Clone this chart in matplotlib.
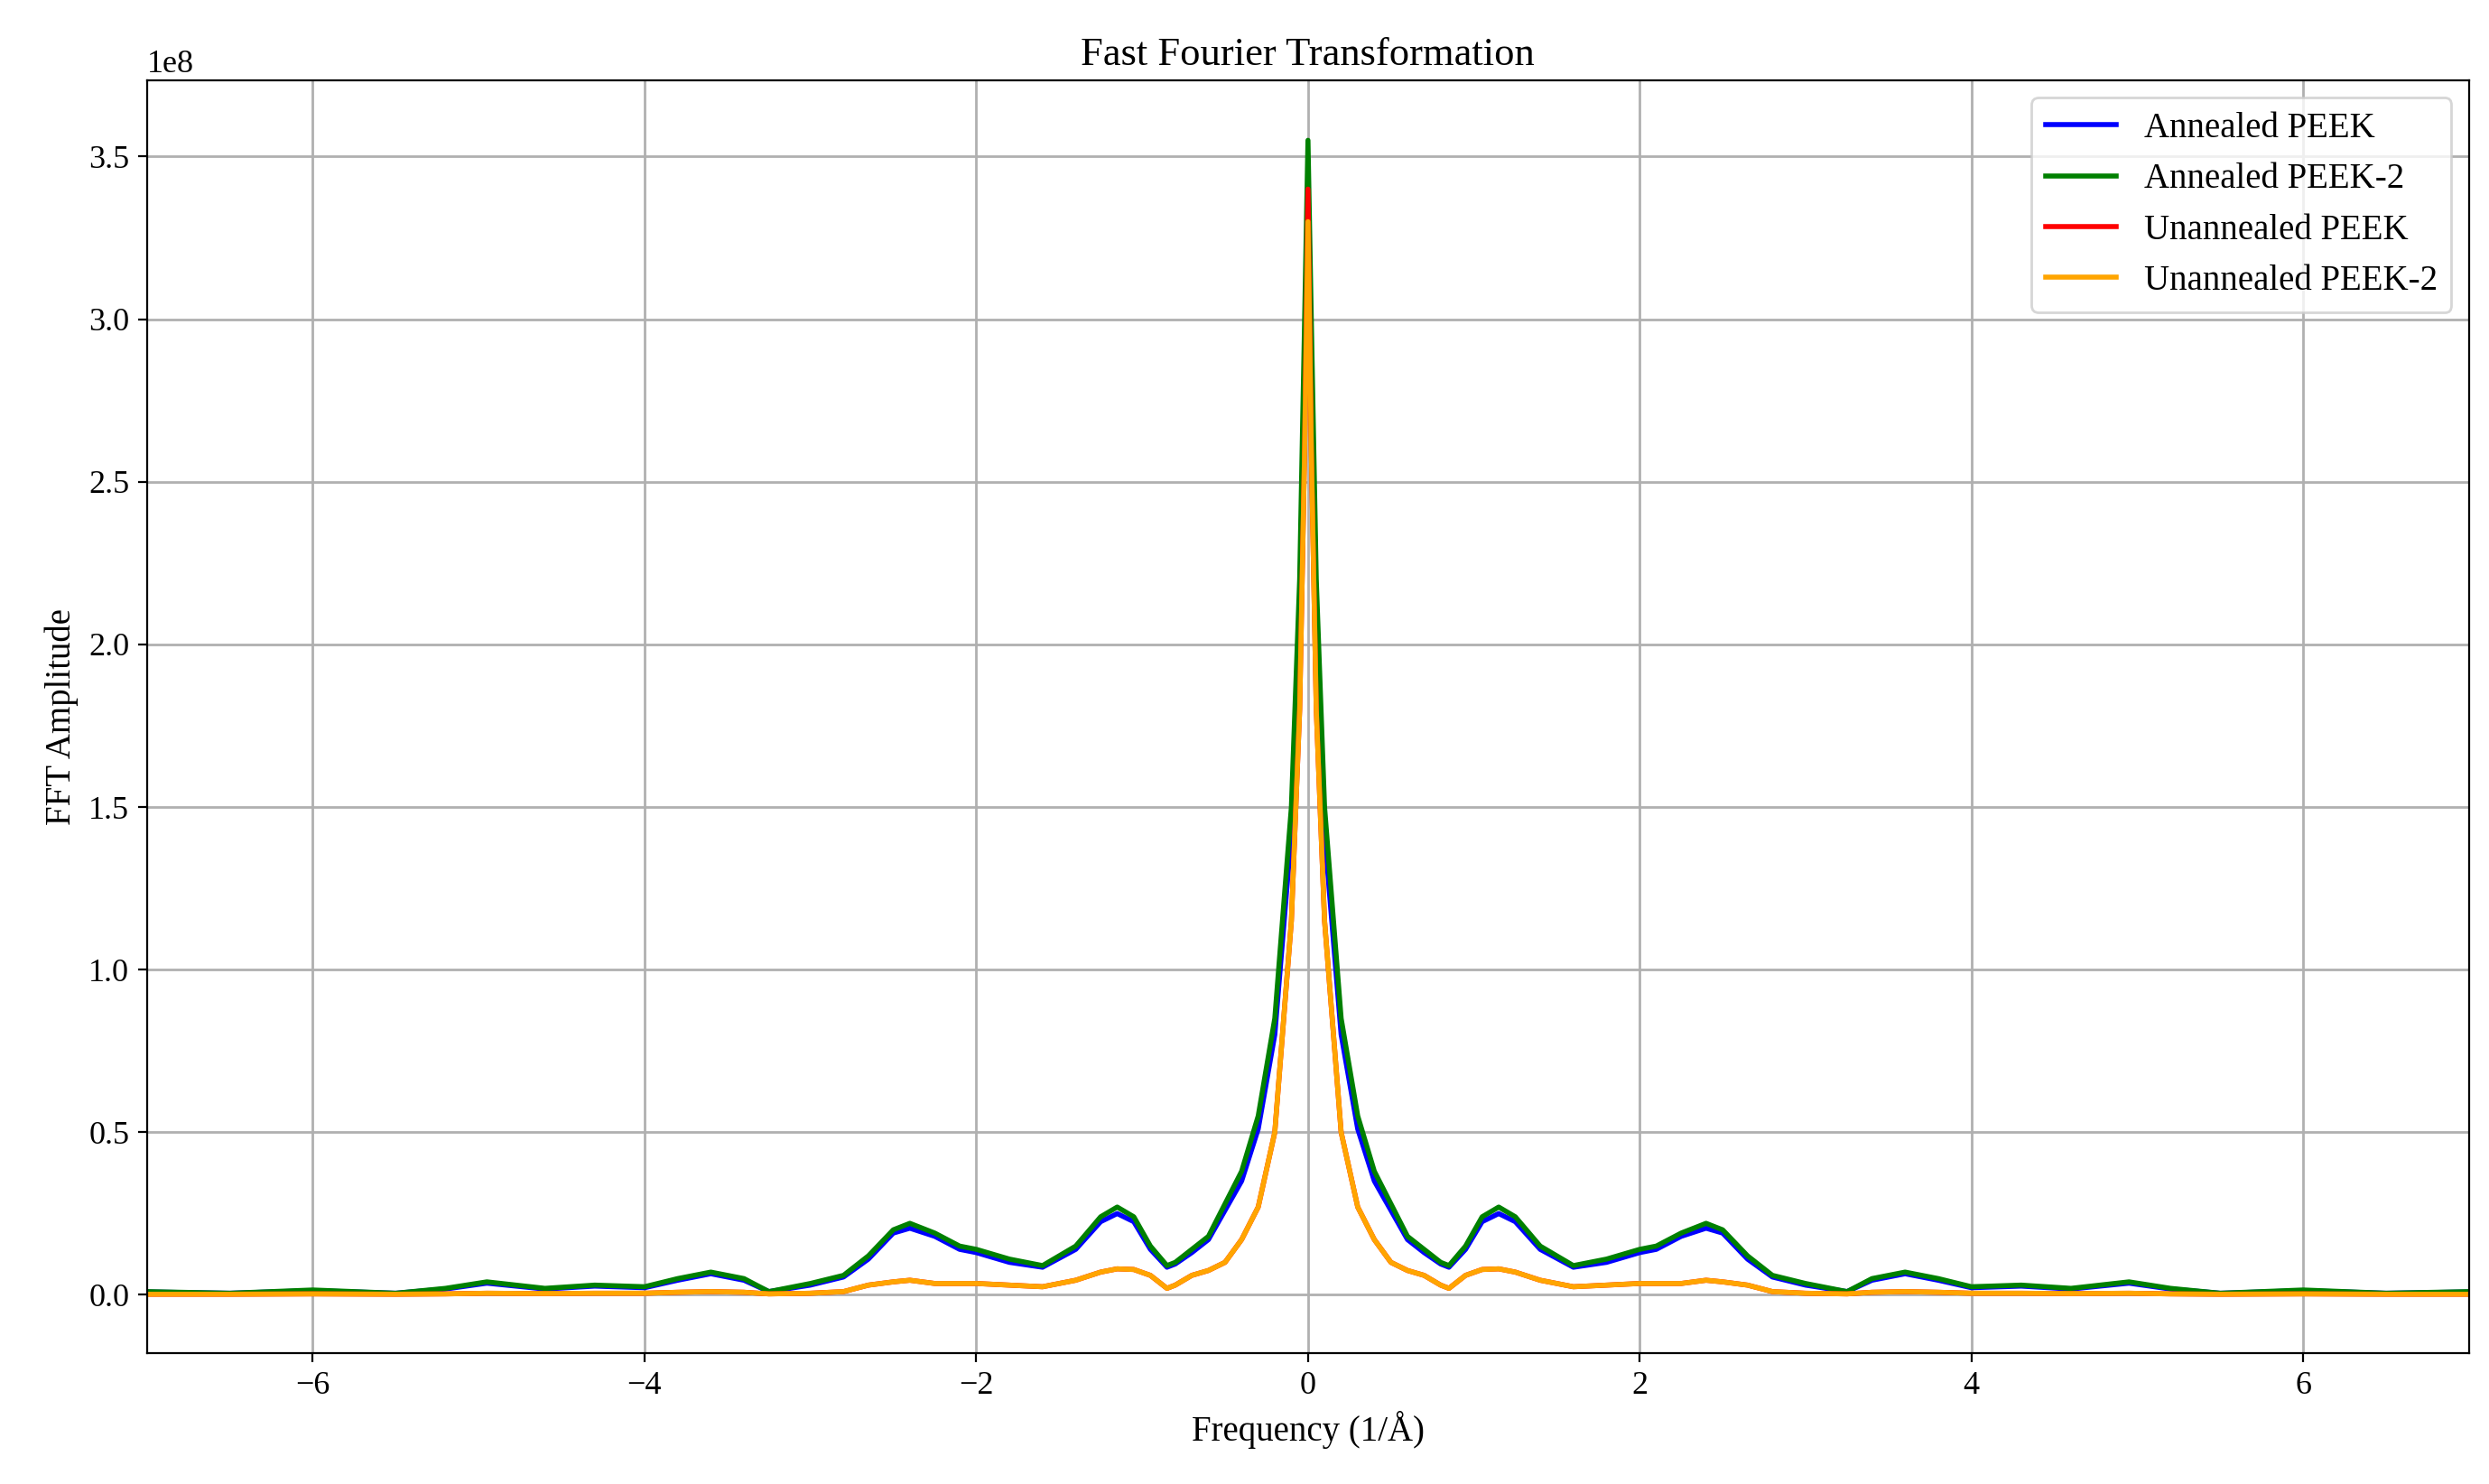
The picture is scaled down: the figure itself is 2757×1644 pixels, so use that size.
import numpy as np
import matplotlib.pyplot as plt

plt.rcParams['font.family'] = ['Liberation Serif', 'DejaVu Serif']

# positive-frequency half (spectrum is symmetric), amplitudes in 1e8
freq_half = [0, 0.02, 0.05, 0.1, 0.2, 0.3, 0.4, 0.5, 0.6, 0.7, 0.8, 0.85, 0.95, 1.05,
             1.15, 1.25, 1.4, 1.6, 1.8, 2.0, 2.1, 2.25, 2.4, 2.5, 2.65, 2.8, 3.0, 3.25,
             3.4, 3.6, 3.8, 4.0, 4.3, 4.6, 4.95, 5.2, 5.5, 6.0, 6.5, 7.0]
annealed2 = [3.55, 3.0, 2.2, 1.5, 0.85, 0.55, 0.38, 0.28, 0.18, 0.14, 0.1, 0.09, 0.15, 0.24,
             0.27, 0.24, 0.15, 0.09, 0.11, 0.14, 0.15, 0.19, 0.22, 0.2, 0.12, 0.06, 0.035, 0.01,
             0.05, 0.07, 0.05, 0.025, 0.03, 0.02, 0.04, 0.02, 0.005, 0.015, 0.005, 0.01]
annealed = [3.3, 2.85, 2.1, 1.42, 0.8, 0.51, 0.35, 0.26, 0.17, 0.13, 0.095, 0.085, 0.14, 0.225,
            0.25, 0.225, 0.14, 0.085, 0.1, 0.13, 0.14, 0.18, 0.205, 0.19, 0.11, 0.055, 0.03, 0.01,
            0.045, 0.065, 0.045, 0.022, 0.027, 0.018, 0.036, 0.018, 0.005, 0.013, 0.005, 0.009]
unannealed2 = [3.3, 2.6, 1.8, 1.15, 0.5, 0.27, 0.17, 0.1, 0.075, 0.06, 0.03, 0.02, 0.06, 0.078,
               0.08, 0.07, 0.045, 0.025, 0.03, 0.035, 0.035, 0.035, 0.045, 0.04, 0.03, 0.01, 0.005, 0.003,
               0.008, 0.01, 0.008, 0.005, 0.005, 0.004, 0.005, 0.003, 0.002, 0.003, 0.002, 0.002]
unannealed = [3.4, 2.6, 1.8, 1.15, 0.5, 0.27, 0.17, 0.1, 0.075, 0.06, 0.03, 0.02, 0.06, 0.078,
              0.08, 0.07, 0.045, 0.025, 0.03, 0.035, 0.035, 0.035, 0.045, 0.04, 0.03, 0.01, 0.005, 0.003,
              0.008, 0.01, 0.008, 0.005, 0.005, 0.004, 0.005, 0.003, 0.002, 0.003, 0.002, 0.002]


def mirror(x, y):
    x = np.array(x)
    y = np.array(y) * 1e8
    return np.concatenate([-x[:0:-1], x]), np.concatenate([y[:0:-1], y])


fig = plt.figure(figsize=(13.785, 8.22), dpi=200)
ax = fig.add_axes([0.059, 0.088, 0.933, 0.858])

series = [(annealed, 'blue', 'Annealed PEEK'),
          (annealed2, 'green', 'Annealed PEEK-2'),
          (unannealed, 'red', 'Unannealed PEEK'),
          (unannealed2, 'orange', 'Unannealed PEEK-2')]
for vals, col, lab in series:
    x, y = mirror(freq_half, vals)
    ax.plot(x, y, color=col, lw=2, label=lab)

ax.set_xlim(-7, 7)
ax.set_ylim(-0.18e8, 3.735e8)
ax.grid(True, color='#b0b0b0', lw=1)
ax.tick_params(labelsize=13)
ax.yaxis.get_offset_text().set_fontsize(13)
ax.set_title('Fast Fourier Transformation', fontsize=16)
ax.set_xlabel('Frequency (1/Å)', fontsize=14)
ax.set_ylabel('FFT Amplitude', fontsize=14)
ax.legend(loc='upper right', fontsize=14)

fig.savefig('out.png')
